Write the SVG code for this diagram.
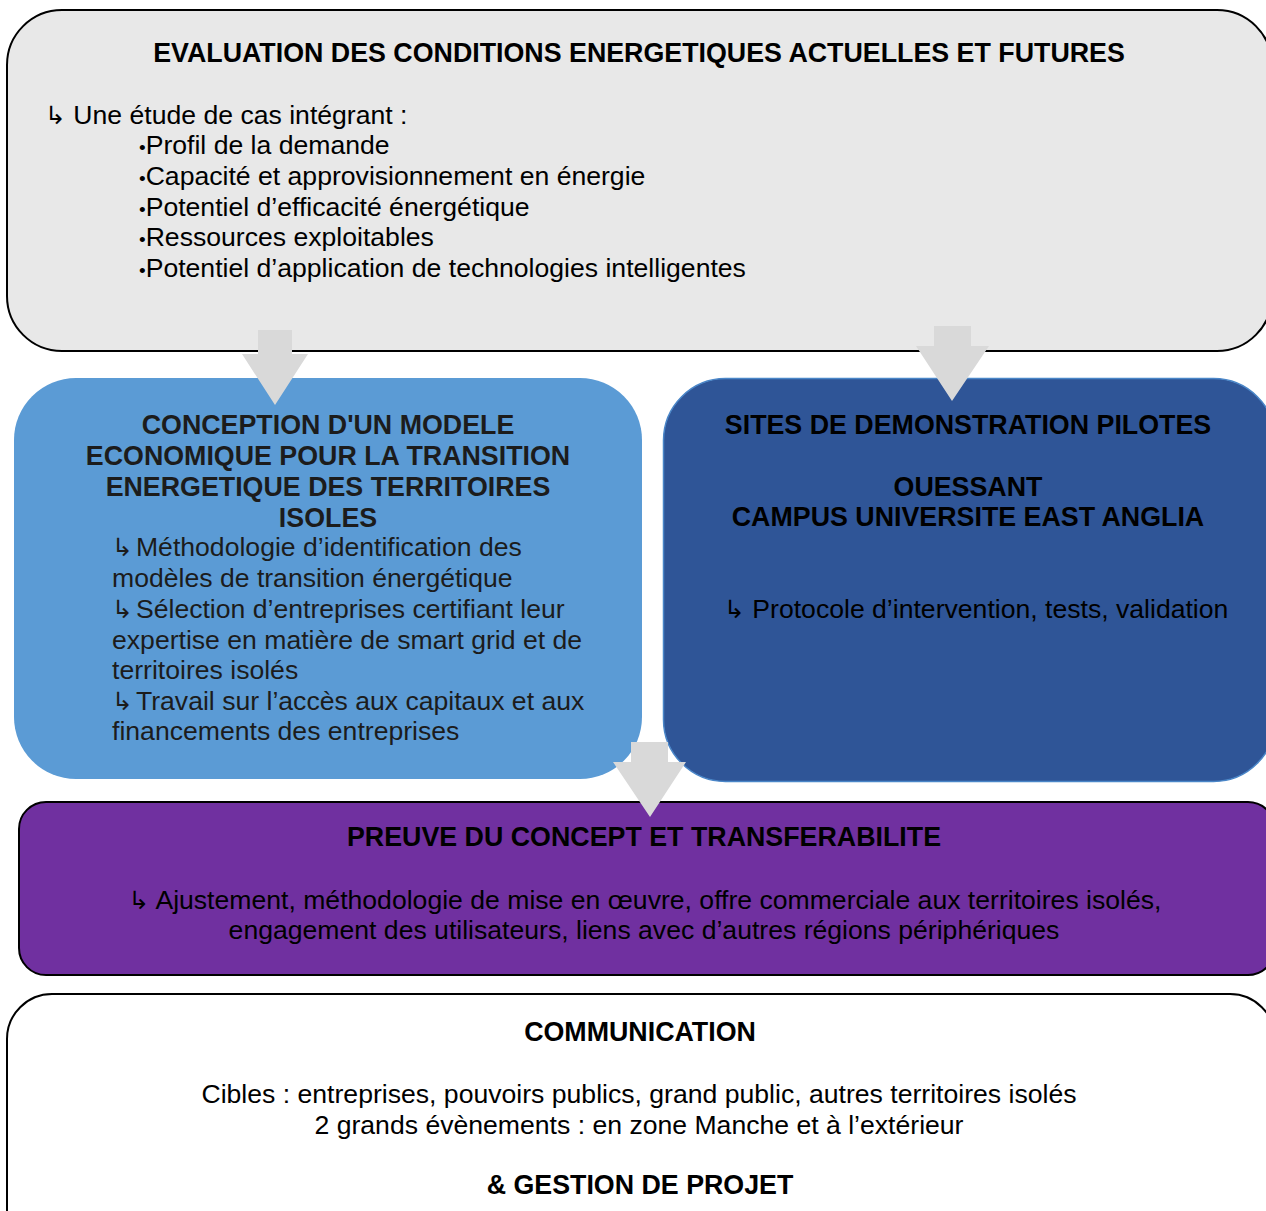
<svg xmlns="http://www.w3.org/2000/svg" width="1266" height="1211" viewBox="0 0 1266 1211">
<style>
text{font-family:"Liberation Sans",Arial,sans-serif;font-size:26.6px;fill:#000}
.b{font-weight:bold;font-size:26.8px}
.c{text-anchor:middle}
.d{fill:#1c1c1c}
.ar{font-family:"DejaVu Sans",sans-serif;font-size:25px}
.bu{font-size:19px}
.arrow{fill:#d9d9d9}
</style>
<rect width="1266" height="1211" fill="#fff"/>
<g id="node-evaluation">
<rect x="7" y="10" width="1265" height="341" rx="55" ry="55" fill="#e8e8e8" stroke="#000" stroke-width="2"/>
<text class="b c" x="639" y="62">EVALUATION DES CONDITIONS ENERGETIQUES ACTUELLES ET FUTURES</text>
<text x="45" y="124"><tspan class="ar">↳</tspan> Une étude de cas intégrant :</text>
<text x="139" y="154"><tspan class="bu">•</tspan>Profil de la demande</text>
<text x="139" y="185"><tspan class="bu">•</tspan>Capacité et approvisionnement en énergie</text>
<text x="139" y="216"><tspan class="bu">•</tspan>Potentiel d’efficacité énergétique</text>
<text x="139" y="246"><tspan class="bu">•</tspan>Ressources exploitables</text>
<text x="139" y="277"><tspan class="bu">•</tspan>Potentiel d’application de technologies intelligentes</text>
</g>
<g id="node-conception">
<rect x="14" y="378" width="628" height="401" rx="62" ry="62" fill="#5b9bd5"/>
<text class="b c d" x="328" y="434">CONCEPTION D'UN MODELE</text>
<text class="b c d" x="328" y="465">ECONOMIQUE POUR LA TRANSITION</text>
<text class="b c d" x="328" y="496">ENERGETIQUE DES TERRITOIRES</text>
<text class="b c d" x="328" y="527">ISOLES</text>
<text class="d" x="112" y="556"><tspan class="ar d">↳</tspan><tspan dx="3">Méthodologie d’identification des</tspan></text>
<text class="d" x="112" y="587">modèles de transition énergétique</text>
<text class="d" x="112" y="618"><tspan class="ar d">↳</tspan><tspan dx="3">Sélection d’entreprises certifiant leur</tspan></text>
<text class="d" x="112" y="649">expertise en matière de smart grid et de</text>
<text class="d" x="112" y="679">territoires isolés</text>
<text class="d" x="112" y="710"><tspan class="ar d">↳</tspan><tspan dx="3">Travail sur l’accès aux capitaux et aux</tspan></text>
<text class="d" x="112" y="740">financements des entreprises</text>
</g>
<g id="node-sites">
<rect x="663.5" y="378.5" width="612" height="403" rx="62" ry="62" fill="#2f5597" stroke="#4a86c8" stroke-width="1.5"/>
<text class="b c" x="968" y="434">SITES DE DEMONSTRATION PILOTES</text>
<text class="b c" x="968" y="496">OUESSANT</text>
<text class="b c" x="968" y="526">CAMPUS UNIVERSITE EAST ANGLIA</text>
<text x="724" y="618"><tspan class="ar">↳</tspan> Protocole d’intervention, tests, validation</text>
</g>
<g id="node-preuve">
<rect x="19" y="802" width="1256" height="173" rx="27" ry="27" fill="#7030a0" stroke="#000" stroke-width="2"/>
<text class="b c" x="644" y="846">PREUVE DU CONCEPT ET TRANSFERABILITE</text>
<text class="c" x="645" y="909"><tspan class="ar">↳</tspan> Ajustement, méthodologie de mise en œuvre, offre commerciale aux territoires isolés,</text>
<text class="c" x="644" y="939">engagement des utilisateurs, liens avec d’autres régions périphériques</text>
</g>
<g id="node-communication">
<rect x="7" y="994" width="1268" height="260" rx="45" ry="45" fill="#fff" stroke="#000" stroke-width="2"/>
<text class="b c" x="640" y="1041">COMMUNICATION</text>
<text class="c" x="639" y="1103">Cibles : entreprises, pouvoirs publics, grand public, autres territoires isolés</text>
<text class="c" x="639" y="1134">2 grands évènements : en zone Manche et à l’extérieur</text>
<text class="b c" x="640" y="1194">&amp; GESTION DE PROJET</text>
</g>
<g id="connectors">
<polygon class="arrow" points="258,330 292,330 292,354 308,354 275,405 242,354 258,354"/>
<polygon class="arrow" points="934,326 971,326 971,346 989,346 952,401 916,346 934,346"/>
<polygon class="arrow" points="631,742 668,742 668,762 686,762 650,817 613,762 631,762"/>
</g>
</svg>
